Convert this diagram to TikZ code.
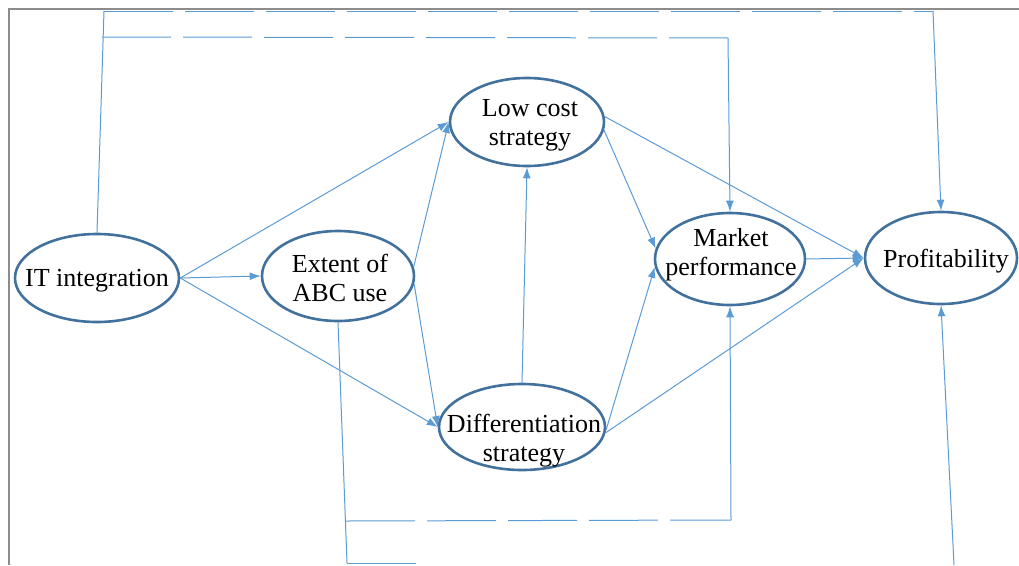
\documentclass[tikz,border=0pt]{standalone}
\usepackage{fontspec}
\setmainfont{Liberation Serif}
\usetikzlibrary{shapes.geometric,arrows.meta}
\definecolor{linkblue}{HTML}{5B9BD5}
\definecolor{rimblue}{HTML}{41719C}
\definecolor{framegrey}{HTML}{8C8C8C}
\begin{document}
\begin{tikzpicture}[x=1pt,y=-1pt,
  construct/.style={ellipse, draw=rimblue, line width=2.6pt, inner sep=0pt},
  caption/.style={font=\fontsize{26}{29}\selectfont, align=center, inner sep=0pt},
  link/.style={draw=linkblue, line width=1pt},
  arrowlink/.style={link, -{Latex[length=11pt,width=8pt]}},
  dashlink/.style={link, dash pattern=on 69pt off 12pt}]
\useasboundingbox (0,0) rectangle (1019,565);
% frame
\draw[framegrey, line width=1.5pt] (9,565) -- (9,9) -- (1019,9);

% constructs
\node[construct, minimum width=164pt, minimum height=88pt] (it)   at (97,278)  {};
\node[construct, minimum width=152pt, minimum height=90pt] (ext)  at (338,276) {};
\node[construct, minimum width=154pt, minimum height=88pt] (low)  at (527,122) {};
\node[construct, minimum width=166pt, minimum height=86pt] (diff) at (522,427) {};
\node[construct, minimum width=150pt, minimum height=92pt] (mkt)  at (730,259) {};
\node[construct, minimum width=152pt, minimum height=92pt] (prof) at (941,258) {};

\node[caption] (itText)   at (97,281)  {IT integration};
\node[caption] (extText)  at (340,278) {Extent of\\ABC use};
\node[caption] (lowText)  at (530,125) {Low cost\\strategy};
\node[caption] (diffText) at (524,441) {Differentiation\\strategy};
\node[caption] (mktText)  at (731,255) {Market\\performance};
\node[caption] (profText) at (946,261) {Profitability};

% direct paths
\draw[arrowlink] (it.east) -- (ext.west);
\draw[arrowlink] (it.east) -- (low.west);
\draw[arrowlink] (it.east) -- (diff.west);
\draw[arrowlink] (ext.7) -- (low.west);
\draw[arrowlink] (ext.-6) -- (diff.west);
\draw[arrowlink] (diff.north) -- (low.south);
\draw[arrowlink] (low.-6) -- (mkt.172);
\draw[arrowlink] (low.4) -- (prof.west);
\draw[arrowlink] (diff.-2) -- (mkt.186);
\draw[arrowlink] (diff.-4) -- (prof.west);
\draw[arrowlink] (mkt.east) -- (prof.west);

% routes over the top
\coordinate (topL) at (104,11);
\coordinate (topR) at (933,11);
\coordinate (midL) at (102,37);
\coordinate (midR) at (728,38);
\draw[link] (it.north) -- (topL);
\draw[dashlink] (topL) -- (topR);
\draw[arrowlink] (topR) -- (prof.north);
\draw[dashlink] (midL) -- (midR);
\draw[arrowlink] (midR) -- (mkt.north);

% routes along the bottom
\coordinate (botL) at (347,563);
\coordinate (lowL) at (346,521);
\coordinate (lowR) at (731,520);
\coordinate (botEnd) at (416,563);
\coordinate (botR) at (954,565);
\draw[link] (ext.south) -- (botL);
\draw[dashlink] (lowL) -- (lowR);
\draw[arrowlink] (lowR) -- (mkt.south);
\draw[link] (botL) -- (botEnd);
\draw[arrowlink] (botR) -- (prof.south);
\end{tikzpicture}
\end{document}
